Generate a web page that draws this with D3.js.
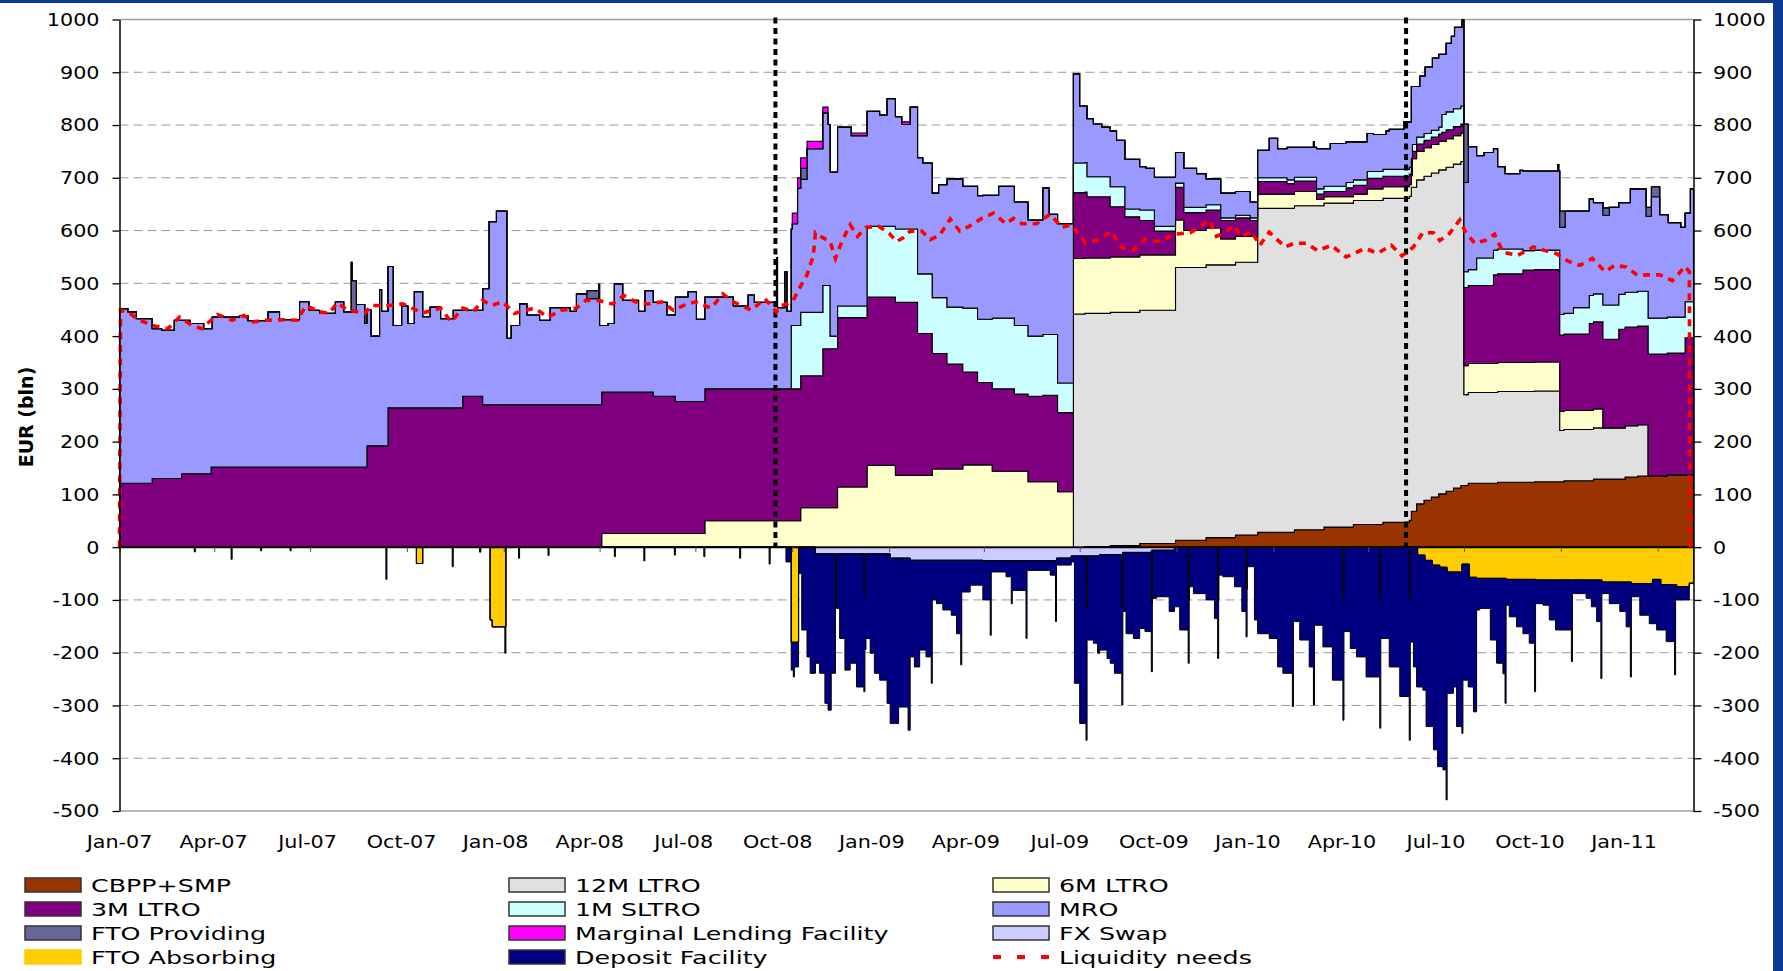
<!DOCTYPE html>
<html>
<head>
<meta charset="utf-8">
<script src="https://cdn.jsdelivr.net/npm/d3@7"></script>
<style>
  html, body { margin: 0; padding: 0; background: #fff; }
  svg { display: block; }
</style>
</head>
<body>
<svg id="chart" width="1783" height="971"></svg>
<script>
// ---- data (EUR bln), each list = [date the value starts, value] ----
const endDate = "2011-02-04";
const eventDates = ["2008-09-15", "2010-05-07"];
const xTickLabels = ["Jan-07","Apr-07","Jul-07","Oct-07","Jan-08","Apr-08","Jul-08","Oct-08",
  "Jan-09","Apr-09","Jul-09","Oct-09","Jan-10","Apr-10","Jul-10","Oct-10","Jan-11"];
const yTicks = [-500,-400,-300,-200,-100,0,100,200,300,400,500,600,700,800,900,1000];

const cbppSmp = [["2007-01-01",0],["2009-07-06",1],["2009-07-30",3],["2009-08-27",7],["2009-09-30",13],
  ["2009-10-29",18],["2009-11-26",23],["2009-12-17",28],["2010-01-21",33],["2010-02-18",38],["2010-03-18",43],
  ["2010-04-15",47],["2010-05-10",51],["2010-05-12",68],["2010-05-17",82],["2010-05-24",89],["2010-05-31",95],
  ["2010-06-07",101],["2010-06-14",106],["2010-06-21",112],["2010-06-28",117],["2010-07-05",121],["2010-08-02",123],
  ["2010-09-06",124],["2010-10-04",126],["2010-11-01",129],["2010-12-01",133],["2010-12-13",135],["2011-01-10",137]];

const ltro12m = [["2007-01-01",0],["2009-06-25",442],["2009-09-30",517],["2009-12-17",614],["2010-07-01",172],
  ["2010-09-30",97],["2010-12-23",0]];

const ltro6m = [["2007-01-01",0],["2008-04-03",26],["2008-07-10",50],["2008-10-09",75],["2008-11-13",114],
  ["2008-12-11",155],["2009-01-07",136],["2009-02-11",148],["2009-03-12",156],["2009-04-09",144],["2009-05-13",124],
  ["2009-06-10",105],["2009-09-30",90],["2009-10-08",70],["2009-11-12",49],["2009-12-17",27],["2010-02-11",12],
  ["2010-03-31",22],["2010-05-13",54],["2010-07-01",55],["2010-09-30",36],["2010-11-10",0]];

const ltro3m = [["2007-01-01",121],["2007-02-01",130],["2007-03-01",139],["2007-03-29",152],["2007-08-24",192],
  ["2007-09-13",264],["2007-11-23",286],["2007-12-12",270],["2008-04-03",268],["2008-05-22",260],["2008-06-12",250],
  ["2008-10-30",301],["2008-11-13",321],["2008-12-11",319],["2009-01-07",328],["2009-01-28",269],["2009-02-11",219],
  ["2009-02-25",199],["2009-03-12",176],["2009-03-26",156],["2009-04-30",146],["2009-05-13",162],["2009-05-27",164],
  ["2009-06-10",150],["2009-06-25",125],["2009-07-08",116],["2009-07-30",95],["2009-08-13",76],["2009-08-27",65],
  ["2009-09-10",45],["2009-09-30",62],["2009-10-08",34],["2009-11-12",35],["2009-12-10",30],["2009-12-17",24],
  ["2010-01-14",20],["2010-02-11",10],["2010-03-11",17],["2010-03-31",20],["2010-05-13",14],["2010-06-10",17],
  ["2010-07-01",148],["2010-07-29",168],["2010-08-26",175],["2010-09-30",145],["2010-10-28",165],["2010-11-10",168],
  ["2010-11-25",187],["2010-12-23",231],["2011-01-27",260]];

const sltro1m = [["2007-01-01",0],["2008-09-30",120],["2008-11-06",24],["2008-11-13",22],["2008-12-11",134],
  ["2009-01-07",139],["2009-01-28",113],["2009-02-11",106],["2009-02-25",108],["2009-03-12",121],["2009-03-26",120],
  ["2009-04-09",134],["2009-04-30",130],["2009-05-13",114],["2009-05-27",115],["2009-06-10",56],["2009-07-08",38],
  ["2009-08-13",15],["2009-08-27",20],["2009-09-10",9],["2009-09-30",8],["2009-10-08",10],["2009-11-12",5],
  ["2009-12-17",7],["2010-02-11",10],["2010-03-31",13],["2010-06-10",34],["2010-07-01",30],["2010-07-13",52],
  ["2010-07-29",47],["2010-08-26",37],["2010-09-30",39],["2010-10-13",50],["2010-10-28",53],["2010-11-10",65],
  ["2010-11-25",66],["2010-12-23",68]];

const mro = [["2007-01-01",331],["2007-01-09",325],["2007-01-17",312],["2007-02-01",284],["2007-02-10",281],
  ["2007-02-22",300],["2007-03-01",291],["2007-03-09",285],["2007-03-22",275],["2007-03-29",262],["2007-03-30",284],
  ["2007-04-25",287],["2007-05-03",277],["2007-05-22",294],["2007-06-02",279],["2007-06-21",313],["2007-06-30",297],
  ["2007-07-10",291],["2007-07-25",313],["2007-08-02",294],["2007-08-09",293],["2007-08-14",308],["2007-08-22",272],
  ["2007-08-24",258],["2007-08-28",208],["2007-09-05",296],["2007-09-07",255],["2007-09-13",268],["2007-09-18",156],
  ["2007-09-26",193],["2007-10-02",160],["2007-10-08",220],["2007-10-16",173],["2007-10-23",191],["2007-11-02",169],
  ["2007-11-14",185],["2007-11-23",163],["2007-12-12",220],["2007-12-18",347],["2007-12-25",367],["2008-01-04",126],
  ["2008-01-08",150],["2008-01-16",191],["2008-01-23",170],["2008-02-04",160],["2008-02-14",184],["2008-03-04",177],
  ["2008-03-10",210],["2008-03-20",201],["2008-03-31",228],["2008-04-01",150],["2008-04-03",126],["2008-04-09",130],
  ["2008-04-15",205],["2008-04-23",174],["2008-05-08",153],["2008-05-14",192],["2008-05-22",178],["2008-06-04",154],
  ["2008-06-12",198],["2008-06-24",208],["2008-07-02",156],["2008-07-10",174],["2008-08-06",157],["2008-08-20",178],
  ["2008-08-26",164],["2008-09-16",169],["2008-09-17",154],["2008-09-24",222],["2008-09-26",147],["2008-09-30",183],
  ["2008-10-01",193],["2008-10-06",260],["2008-10-09",252],["2008-10-15",310],["2008-10-30",327],["2008-11-04",305],
  ["2008-11-06",311],["2008-11-13",339],["2008-11-26",323],["2008-12-11",218],["2008-12-23",211],["2008-12-30",242],
  ["2009-01-07",213],["2009-01-13",198],["2009-01-21",231],["2009-01-28",220],["2009-02-02",210],["2009-02-11",198],
  ["2009-02-17",214],["2009-02-25",243],["2009-03-12",231],["2009-03-26",234],["2009-03-31",235],["2009-04-09",233],
  ["2009-04-15",250],["2009-04-30",234],["2009-05-13",220],["2009-05-27",278],["2009-06-02",228],["2009-06-10",302],
  ["2009-06-25",169],["2009-07-01",108],["2009-07-06",107],["2009-07-08",110],["2009-07-14",100],["2009-07-22",94],
  ["2009-07-30",106],["2009-08-05",88],["2009-08-13",94],["2009-08-27",82],["2009-09-02",79],["2009-09-10",93],
  ["2009-09-30",58],["2009-10-08",74],["2009-10-20",64],["2009-10-29",49],["2009-11-12",47],["2009-11-26",45],
  ["2009-12-10",30],["2009-12-17",52],["2009-12-28",75],["2010-01-05",55],["2010-01-14",62],["2010-01-21",57],
  ["2010-02-08",67],["2010-02-09",57],["2010-02-11",76],["2010-02-18",71],["2010-02-24",81],["2010-03-11",77],
  ["2010-03-18",72],["2010-03-31",72],["2010-04-06",70],["2010-04-15",66],["2010-04-18",73],["2010-04-21",76],
  ["2010-05-05",90],["2010-05-10",86],["2010-05-12",136],["2010-05-13",110],["2010-05-17",96],["2010-05-20",116],
  ["2010-05-24",109],["2010-05-25",126],["2010-05-31",120],["2010-06-01",137],["2010-06-07",138],["2010-06-10",114],
  ["2010-06-14",130],["2010-06-19",143],["2010-06-21",137],["2010-06-22",154],["2010-06-28",149],["2010-06-29",163],
  ["2010-07-01",169],["2010-07-05",233],["2010-07-13",194],["2010-07-20",200],["2010-07-29",192],["2010-08-02",156],
  ["2010-08-09",143],["2010-08-23",149],["2010-08-26",151],["2010-09-06",150],["2010-09-28",162],["2010-09-29",150],
  ["2010-09-30",165],["2010-10-04",163],["2010-10-05",194],["2010-10-13",183],["2010-10-28",183],["2010-11-01",173],
  ["2010-11-10",170],["2010-11-16",185],["2010-11-25",174],["2010-12-01",170],["2010-12-06",196],["2010-12-13",194],
  ["2010-12-21",142],["2010-12-23",193],["2010-12-26",230],["2011-01-03",196],["2011-01-10",194],["2011-01-11",179],
  ["2011-01-23",170],["2011-01-27",168],["2011-02-01",214]];

const ftoProviding = [["2007-01-01",0],["2007-08-09",95],["2007-08-10",60],["2007-08-14",0],["2008-03-20",15],
  ["2008-03-31",0],["2008-09-16",80],["2008-09-17",0],["2008-10-09",21],["2008-10-15",0],["2010-07-01",111],
  ["2010-07-05",0],["2010-09-30",31],["2010-10-05",0],["2010-11-10",14],["2010-11-16",0],["2010-12-21",17],
  ["2010-12-26",19],["2011-01-03",0]];

const marginalLending = [["2007-01-01",0],["2008-10-01",20],["2008-10-15",14],["2008-10-30",11],["2008-11-04",0],
  ["2008-11-26",5],["2008-12-11",0],["2009-01-13",5],["2009-01-21",0]];

const fxSwap = [["2007-01-01",0],["2008-10-23",-13],["2009-01-02",-21],["2009-01-21",-25],["2009-03-31",-26],
  ["2009-06-09",-21],["2009-06-23",-17],["2009-07-20",-14],["2009-08-11",-10],["2009-09-07",-6],["2009-09-29",0]];

const ftoAbsorbing = [["2007-01-01",0],["2007-10-10",-31],["2007-10-16",0],["2007-12-09",-9],["2007-12-10",0],
  ["2007-12-19",-138],["2007-12-21",-151],["2008-01-03",0],["2008-09-30",-180],["2008-10-07",0],["2008-12-08",-80],
  ["2008-12-09",0],["2009-07-07",-100],["2009-07-08",0],["2009-08-10",-100],["2009-08-11",0],["2009-09-07",-100],
  ["2009-09-08",0],["2009-10-12",-100],["2009-10-13",0],["2009-11-09",-100],["2009-11-10",0],["2009-12-06",-80],
  ["2009-12-07",0],["2010-03-08",-100],["2010-03-09",0],["2010-04-12",-100],["2010-04-13",0],["2010-05-10",-100],
  ["2010-05-11",0],["2010-05-18",-15],["2010-05-25",-25],["2010-06-01",-34],["2010-06-08",-38],["2010-06-15",-47],
  ["2010-06-29",-32],["2010-07-06",-57],["2010-07-13",-59],["2010-08-10",-61],["2010-09-07",-62],["2010-11-09",-66],
  ["2010-12-07",-69],["2010-12-27",-61],["2011-01-04",-71],["2011-01-19",-75],["2011-01-31",-68]];

const depositFacility = [["2007-01-01",0],["2007-03-13",-9],["2007-03-14",0],["2007-04-17",-23],["2007-04-18",0],
  ["2007-05-15",-7],["2007-05-16",0],["2007-06-12",-7],["2007-06-13",0],["2007-09-11",-61],["2007-09-12",0],
  ["2007-11-13",-37],["2007-11-14",0],["2008-01-02",-50],["2008-01-03",0],["2008-01-15",-21],["2008-01-16",0],
  ["2008-02-12",-16],["2008-02-13",0],["2008-04-15",-18],["2008-04-16",0],["2008-05-13",-26],["2008-05-14",0],
  ["2008-06-11",-15],["2008-06-12",0],["2008-07-09",-18],["2008-07-10",0],["2008-08-12",-21],["2008-08-13",0],
  ["2008-09-09",-32],["2008-09-10",0],["2008-09-25",-28],["2008-09-30",-53],["2008-10-02",-66],["2008-10-03",-47],
  ["2008-10-07",-50],["2008-10-10",-157],["2008-10-15",-208],["2008-10-18",-239],["2008-10-23",-207],["2008-10-27",-226],
  ["2008-11-01",-283],["2008-11-04",-296],["2008-11-07",-226],["2008-11-11",-2],["2008-11-12",-103],["2008-11-15",-160],
  ["2008-11-20",-220],["2008-11-25",-207],["2008-12-01",-252],["2008-12-08",-181],["2008-12-10",-160],["2008-12-14",-188],
  ["2008-12-18",-226],["2008-12-23",-239],["2008-12-30",-283],["2009-01-02",-313],["2009-01-10",-282],["2009-01-19",-326],
  ["2009-01-21",-183],["2009-01-25",-202],["2009-01-30",-170],["2009-02-05",-183],["2009-02-10",-233],["2009-02-11",-75],
  ["2009-02-15",-82],["2009-02-21",-94],["2009-03-01",-104],["2009-03-06",-139],["2009-03-10",-198],["2009-03-11",-60],
  ["2009-03-19",-47],["2009-03-31",-74],["2009-04-07",-141],["2009-04-08",-21],["2009-04-22",-30],["2009-04-27",-81],
  ["2009-04-28",-56],["2009-05-11",-147],["2009-05-12",-18],["2009-06-03",-27],["2009-06-08",-115],["2009-06-09",-13],
  ["2009-06-23",-11],["2009-06-26",-241],["2009-07-01",-317],["2009-07-07",-249],["2009-07-08",-159],["2009-07-14",-165],
  ["2009-07-18",-184],["2009-07-20",-181],["2009-07-27",-197],["2009-07-30",-206],["2009-08-03",-225],["2009-08-10",-185],
  ["2009-08-11",-112],["2009-08-14",-154],["2009-08-21",-163],["2009-08-27",-144],["2009-09-01",-150],["2009-09-07",-130],
  ["2009-09-08",-91],["2009-09-12",-88],["2009-09-24",-116],["2009-09-29",-113],["2009-10-04",-157],["2009-10-12",-120],
  ["2009-10-13",-75],["2009-10-17",-88],["2009-10-29",-100],["2009-11-06",-135],["2009-11-09",-111],["2009-11-10",-53],
  ["2009-11-14",-56],["2009-11-25",-75],["2009-12-02",-122],["2009-12-06",-90],["2009-12-07",-37],["2009-12-14",-138],
  ["2009-12-17",-164],["2009-12-28",-173],["2010-01-05",-227],["2010-01-10",-239],["2010-01-19",-302],["2010-01-20",-141],
  ["2010-01-26",-176],["2010-02-04",-227],["2010-02-08",-299],["2010-02-09",-148],["2010-02-17",-189],["2010-02-26",-252],
  ["2010-03-08",-228],["2010-03-09",-160],["2010-03-15",-192],["2010-03-21",-208],["2010-03-30",-246],["2010-04-12",-243],
  ["2010-04-13",-173],["2010-04-21",-227],["2010-05-01",-283],["2010-05-10",-266],["2010-05-11",-180],["2010-05-14",-227],
  ["2010-05-17",-265],["2010-05-18",-250],["2010-05-23",-256],["2010-05-25",-246],["2010-05-26",-315],["2010-06-01",-306],
  ["2010-06-02",-350],["2010-06-06",-382],["2010-06-08",-378],["2010-06-11",-384],["2010-06-14",-441],["2010-06-15",-230],
  ["2010-06-21",-218],["2010-06-24",-293],["2010-06-29",-321],["2010-06-30",-220],["2010-07-05",-233],["2010-07-06",-208],
  ["2010-07-10",-255],["2010-07-13",-60],["2010-07-16",-57],["2010-07-26",-117],["2010-08-01",-161],["2010-08-07",-181],
  ["2010-08-09",-237],["2010-08-10",-49],["2010-08-13",-71],["2010-08-20",-90],["2010-08-26",-103],["2010-09-01",-121],
  ["2010-09-06",-213],["2010-09-07",-45],["2010-09-14",-48],["2010-09-20",-76],["2010-09-26",-95],["2010-10-11",-155],
  ["2010-10-12",-26],["2010-10-25",-35],["2010-10-30",-51],["2010-11-04",-79],["2010-11-08",-187],["2010-11-09",-22],
  ["2010-11-16",-41],["2010-11-26",-56],["2010-12-02",-85],["2010-12-06",-180],["2010-12-07",-25],["2010-12-15",-60],
  ["2010-12-24",-76],["2010-12-27",-84],["2010-12-31",-96],["2011-01-04",-86],["2011-01-09",-108],["2011-01-17",-171],
  ["2011-01-18",-29],["2011-01-19",-25],["2011-01-31",-1]];

const liquidityNeeds = [["2007-01-01",0],["2007-01-02",449],["2007-01-09",446],["2007-01-19",431],["2007-02-03",419],
  ["2007-02-16",414],["2007-02-27",436],["2007-03-11",420],["2007-03-20",414],["2007-04-04",441],["2007-04-18",430],
  ["2007-04-29",439],["2007-05-08",427],["2007-05-20",430],["2007-06-06",431],["2007-06-19",430],["2007-06-27",458],
  ["2007-07-10",446],["2007-07-19",443],["2007-07-27",463],["2007-08-05",450],["2007-08-22",443],["2007-08-28",458],
  ["2007-09-14",458],["2007-09-27",461],["2007-10-16",444],["2007-11-02",453],["2007-11-12",427],["2007-11-23",453],
  ["2007-12-03",446],["2007-12-12",468],["2007-12-20",458],["2007-12-31",465],["2008-01-11",443],["2008-01-30",453],
  ["2008-02-12",436],["2008-02-25",449],["2008-03-10",453],["2008-03-19",468],["2008-04-01",467],["2008-04-13",461],
  ["2008-04-24",477],["2008-05-05",465],["2008-05-17",461],["2008-05-30",465],["2008-06-10",449],["2008-06-23",461],
  ["2008-07-01",465],["2008-07-16",453],["2008-07-27",480],["2008-08-06",465],["2008-08-23",449],["2008-09-05",471],
  ["2008-09-16",446],["2008-09-19",457],["2008-09-26",461],["2008-10-02",468],["2008-10-07",488],["2008-10-15",516],
  ["2008-10-21",552],["2008-10-23",596],["2008-10-28",589],["2008-11-06",579],["2008-11-11",547],["2008-11-17",579],
  ["2008-11-25",611],["2008-12-02",589],["2008-12-10",606],["2008-12-22",608],["2009-01-01",595],["2009-01-08",579],
  ["2009-01-14",586],["2009-01-21",599],["2009-02-01",599],["2009-02-09",583],["2009-02-18",591],["2009-02-28",622],
  ["2009-03-09",599],["2009-03-18",608],["2009-03-30",623],["2009-04-10",633],["2009-04-22",613],["2009-04-29",623],
  ["2009-05-07",613],["2009-05-21",613],["2009-06-03",631],["2009-06-14",606],["2009-06-23",611],["2009-07-02",588],
  ["2009-07-07",576],["2009-07-21",584],["2009-07-31",599],["2009-08-09",569],["2009-08-20",562],["2009-09-01",584],
  ["2009-09-15",579],["2009-09-28",593],["2009-10-14",596],["2009-10-20",603],["2009-11-01",620],["2009-11-08",589],
  ["2009-11-17",597],["2009-11-24",610],["2009-12-02",588],["2009-12-11",599],["2009-12-19",572],["2009-12-28",597],
  ["2010-01-12",569],["2010-01-21",576],["2010-02-01",576],["2010-02-12",562],["2010-02-25",572],["2010-03-11",550],
  ["2010-03-29",566],["2010-04-10",557],["2010-04-23",572],["2010-05-03",552],["2010-05-14",569],["2010-05-23",596],
  ["2010-06-02",596],["2010-06-08",581],["2010-06-17",594],["2010-06-27",620],["2010-07-02",599],["2010-07-11",576],
  ["2010-07-21",581],["2010-07-30",593],["2010-08-07",559],["2010-08-21",553],["2010-09-05",569],["2010-09-16",562],
  ["2010-09-27",556],["2010-10-08",542],["2010-10-19",534],["2010-10-31",547],["2010-11-12",522],["2010-11-21",534],
  ["2010-12-02",531],["2010-12-13",515],["2010-12-21",516],["2011-01-03",516],["2011-01-15",505],["2011-01-27",532],
  ["2011-01-31",522],["2011-02-01",0]];

// ---- series setup ----
const posSeries = [
  { key: "CBPP+SMP", data: cbppSmp, color: "#993300" },
  { key: "12M LTRO", data: ltro12m, color: "#e0e0e0" },
  { key: "6M LTRO", data: ltro6m, color: "#ffffcc" },
  { key: "3M LTRO", data: ltro3m, color: "#800080" },
  { key: "1M SLTRO", data: sltro1m, color: "#ccffff" },
  { key: "MRO", data: mro, color: "#9999ff" },
  { key: "FTO Providing", data: ftoProviding, color: "#666699" },
  { key: "Marginal Lending Facility", data: marginalLending, color: "#ff00ff" }
];
const negSeries = [
  { key: "FX Swap", data: fxSwap, color: "#ccccff" },
  { key: "FTO Absorbing", data: ftoAbsorbing, color: "#ffcc00" },
  { key: "Deposit Facility", data: depositFacility, color: "#000080" }
];
const legendOrder = ["CBPP+SMP","12M LTRO","6M LTRO","3M LTRO","1M SLTRO","MRO",
  "FTO Providing","Marginal Lending Facility","FX Swap","FTO Absorbing","Deposit Facility","Liquidity needs"];

const FONT = "DejaVu Sans, Verdana, sans-serif";
const parse = d3.utcParse("%Y-%m-%d");
const plotL = 119.5, plotR = 1693.5, plotT = 19.5, plotB = 811;

const svg = d3.select("#chart");
svg.append("rect").attr("width", 1783).attr("height", 971).attr("fill", "#fff");

const x = d3.scaleUtc().domain([parse("2007-01-01"), parse(endDate)]).range([plotL, plotR]);
const y = d3.scaleLinear().domain([-500, 1000]).range([plotB, plotT]);

// common date grid from all change points
const allSeries = posSeries.concat(negSeries);
const gridKeys = new Set([endDate]);
allSeries.forEach(s => s.data.forEach(p => gridKeys.add(p[0])));
const grid = Array.from(gridKeys).sort().map(parse);

function stepLookup(points) {
  const ds = points.map(p => parse(p[0]));
  const bis = d3.bisector(d => d).right;
  return t => { const i = bis(ds, t) - 1; return i < 0 ? 0 : points[i][1]; };
}
const rows = grid.map(t => {
  const r = { date: t };
  allSeries.forEach(s => { if (!s.look) s.look = stepLookup(s.data); r[s.key] = s.look(t); });
  return r;
});

const posStack = d3.stack().keys(posSeries.map(s => s.key))(rows);
const negStack = d3.stack().keys(negSeries.map(s => s.key))(rows);
const color = {};
allSeries.forEach(s => color[s.key] = s.color);

// ---- gridlines ----
const gGrid = svg.append("g");
gGrid.selectAll("line").data(yTicks.filter(v => v > -500 && v < 1000)).join("line")
  .attr("x1", plotL).attr("x2", plotR)
  .attr("y1", d => y(d)).attr("y2", d => y(d))
  .attr("stroke", "#999").attr("stroke-width", 1).attr("stroke-dasharray", "9,5");
gGrid.selectAll("line.edge").data([1000, -500]).join("line").attr("class", "edge")
  .attr("x1", plotL).attr("x2", plotR)
  .attr("y1", d => y(d)).attr("y2", d => y(d))
  .attr("stroke", "#a0a0a0").attr("stroke-width", 1.6);

// ---- areas ----
const area = d3.area()
  .curve(d3.curveStepAfter)
  .x(d => x(d.data.date))
  .y0(d => y(d[0]))
  .y1(d => y(d[1]));

const gAreas = svg.append("g");
gAreas.selectAll("path.pos").data(posStack).join("path").attr("class", "pos")
  .attr("d", area).attr("fill", d => color[d.key])
  .attr("stroke", "#000").attr("stroke-width", 1.1).attr("stroke-linejoin", "miter");
gAreas.selectAll("path.neg").data(negStack).join("path").attr("class", "neg")
  .attr("d", area).attr("fill", d => color[d.key])
  .attr("stroke", "#000").attr("stroke-width", 1).attr("stroke-linejoin", "miter");

// ticks on the zero line (true quarter starts)
const parseTick = d3.utcParse("%b-%y");
const gZero = svg.append("g").attr("transform", `translate(0,${y(0)})`)
  .call(d3.axisBottom(x).tickValues(xTickLabels.map(parseTick)).tickSize(5).tickSizeOuter(0).tickFormat(""));
gZero.select(".domain").attr("stroke", "#000").attr("stroke-width", 1.2);
gZero.selectAll(".tick line").attr("stroke", "#555");

// event markers
svg.append("g").selectAll("line").data(eventDates).join("line")
  .attr("x1", d => x(parse(d))).attr("x2", d => x(parse(d)))
  .attr("y1", plotT - 2).attr("y2", y(0))
  .attr("stroke", "#000").attr("stroke-width", 4).attr("stroke-dasharray", "6,4.5");

// liquidity needs
const liqLine = d3.line().x(d => x(parse(d[0]))).y(d => y(d[1]));
svg.append("path").datum(liquidityNeeds).attr("d", liqLine)
  .attr("fill", "none").attr("stroke", "#ff0000").attr("stroke-width", 3.6)
  .attr("stroke-dasharray", "7,6");

// ---- axes ----
const sxTick = 1.12;
const plainNum = d => String(d);
const gL = svg.append("g").attr("transform", `translate(${plotL},0)`)
  .call(d3.axisLeft(y).tickValues(yTicks).tickSize(7).tickSizeOuter(0).tickFormat(plainNum));
const gR = svg.append("g").attr("transform", `translate(${plotR},0)`)
  .call(d3.axisRight(y).tickValues(yTicks).tickSize(8).tickSizeOuter(0).tickFormat(plainNum));
[gL, gR].forEach(g => {
  g.select(".domain").attr("stroke", "#000").attr("stroke-width", 1.5);
  g.selectAll(".tick line").attr("stroke", "#000").attr("stroke-width", 1.3);
  g.selectAll("text").style("font-family", FONT).style("font-size", "18.5px").attr("fill", "#000");
});
gL.selectAll("text").attr("x", -20 / sxTick).attr("transform", `scale(${sxTick},1)`);
gR.selectAll("text").attr("x", 19.5 / sxTick).attr("transform", `scale(${sxTick},1)`);

// date labels
const xLab = d3.scalePoint().domain(xTickLabels).range([plotL, 1624]);
svg.append("g").selectAll("text").data(xTickLabels).join("text")
  .attr("transform", d => `translate(${xLab(d)},848) scale(${sxTick},1)`)
  .attr("text-anchor", "middle")
  .style("font-family", FONT).style("font-size", "18.5px")
  .text(d => d);

// y title
svg.append("text")
  .attr("transform", "translate(33,417) rotate(-90)")
  .attr("text-anchor", "middle")
  .style("font-family", FONT).style("font-size", "19px").style("font-weight", "bold")
  .text("EUR (bln)");

// ---- legend ----
const legCols = [25, 509, 993];
const legRows = [885, 909, 933, 957];
const sxLeg = 1.37;
const gLeg = svg.append("g");
legendOrder.forEach((name, i) => {
  const cx = legCols[i % 3], cy = legRows[Math.floor(i / 3)];
  const g = gLeg.append("g").attr("transform", `translate(${cx},${cy})`);
  if (name === "Liquidity needs") {
    g.append("line").attr("x1", 0).attr("x2", 57).attr("y1", 0).attr("y2", 0)
      .attr("stroke", "#ff0000").attr("stroke-width", 4).attr("stroke-dasharray", "8,16");
  } else {
    g.append("rect").attr("x", 0).attr("y", -7).attr("width", 56).attr("height", 14)
      .attr("fill", color[name]).attr("stroke", name === "FTO Absorbing" ? color[name] : "#333")
      .attr("stroke-width", 1.5);
  }
  g.append("text").attr("transform", `translate(66,7) scale(${sxLeg},1)`)
    .style("font-family", FONT).style("font-size", "18.5px")
    .text(name);
});

// frame
svg.append("rect").attr("x", 0).attr("y", 0).attr("width", 1783).attr("height", 3).attr("fill", "#0d3b94");
svg.append("rect").attr("x", 1773).attr("y", 0).attr("width", 10).attr("height", 971).attr("fill", "#0d3b94");
</script>
</body>
</html>
